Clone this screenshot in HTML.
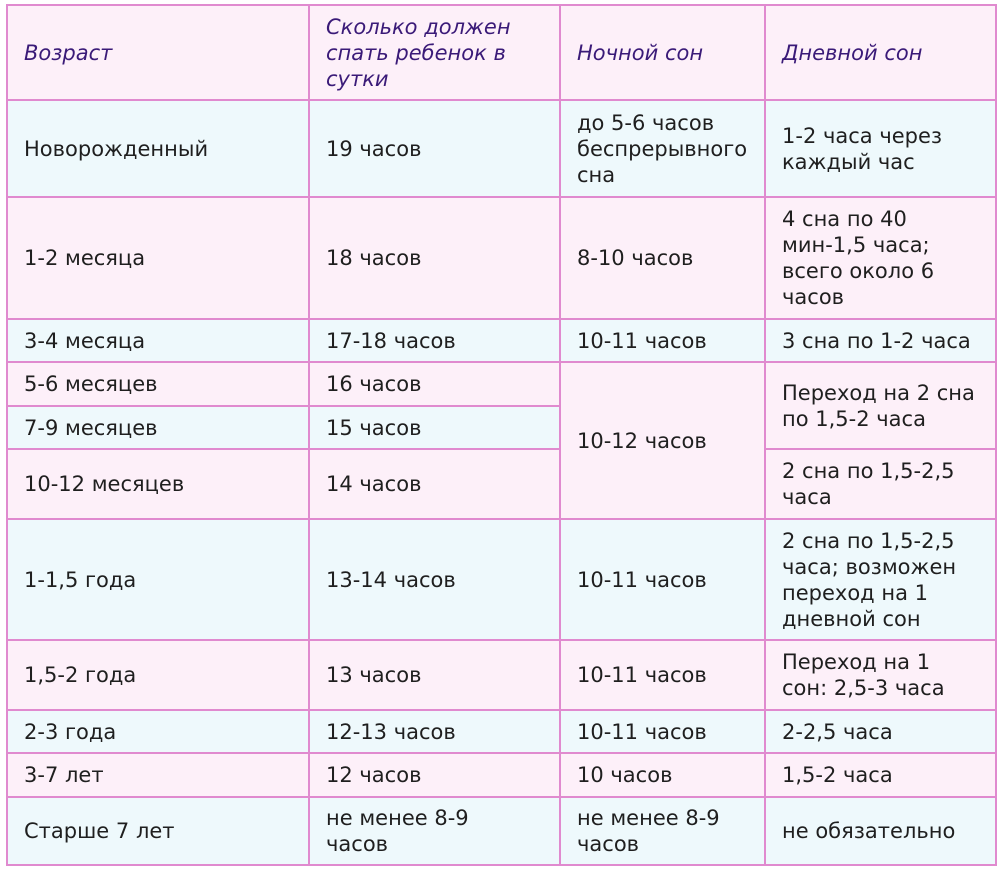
<!DOCTYPE html>
<html><head><meta charset="utf-8">
<style>
html,body{margin:0;padding:0;background:#fff;}
body{width:1000px;height:872px;position:relative;overflow:hidden;font-family:"DejaVu Sans","Liberation Sans",sans-serif;}
.c{position:absolute;display:flex;align-items:center;box-sizing:border-box;padding-left:17px;font-size:21px;line-height:26px;color:#1f1f1f;white-space:nowrap;}
.p{background:#fdf0f9;}
.b{background:#eef9fc;}
.h{font-style:italic;color:#3a1a78;}
.l{position:absolute;background:#e08acf;}
</style></head><body>
<!-- header -->
<div class="c p h" style="left:7px;top:5px;width:302px;height:95px;">Возраст</div>
<div class="c p h" style="left:309px;top:5px;width:251px;height:95px;">Сколько должен<br>спать ребенок в<br>сутки</div>
<div class="c p h" style="left:560px;top:5px;width:205px;height:95px;">Ночной сон</div>
<div class="c p h" style="left:765px;top:5px;width:231px;height:95px;">Дневной сон</div>
<!-- r1 -->
<div class="c b" style="left:7px;top:100px;width:302px;height:97px;">Новорожденный</div>
<div class="c b" style="left:309px;top:100px;width:251px;height:97px;">19 часов</div>
<div class="c b" style="left:560px;top:100px;width:205px;height:97px;">до 5-6 часов<br>беспрерывного<br>сна</div>
<div class="c b" style="left:765px;top:100px;width:231px;height:97px;">1-2 часа через<br>каждый час</div>
<!-- r2 -->
<div class="c p" style="left:7px;top:197px;width:302px;height:122px;">1-2 месяца</div>
<div class="c p" style="left:309px;top:197px;width:251px;height:122px;">18 часов</div>
<div class="c p" style="left:560px;top:197px;width:205px;height:122px;">8-10 часов</div>
<div class="c p" style="left:765px;top:197px;width:231px;height:122px;">4 сна по 40<br>мин-1,5 часа;<br>всего около 6<br>часов</div>
<!-- r3 -->
<div class="c b" style="left:7px;top:319px;width:302px;height:43px;">3-4 месяца</div>
<div class="c b" style="left:309px;top:319px;width:251px;height:43px;">17-18 часов</div>
<div class="c b" style="left:560px;top:319px;width:205px;height:43px;">10-11 часов</div>
<div class="c b" style="left:765px;top:319px;width:231px;height:43px;">3 сна по 1-2 часа</div>
<!-- r4 -->
<div class="c p" style="left:7px;top:362px;width:302px;height:44px;">5-6 месяцев</div>
<div class="c p" style="left:309px;top:362px;width:251px;height:44px;">16 часов</div>
<div class="c p" style="left:560px;top:362px;width:205px;height:157px;">10-12 часов</div>
<div class="c p" style="left:765px;top:362px;width:231px;height:87px;">Переход на 2 сна<br>по 1,5-2 часа</div>
<!-- r5 -->
<div class="c b" style="left:7px;top:406px;width:302px;height:43px;">7-9 месяцев</div>
<div class="c b" style="left:309px;top:406px;width:251px;height:43px;">15 часов</div>
<!-- r6 -->
<div class="c p" style="left:7px;top:449px;width:302px;height:70px;">10-12 месяцев</div>
<div class="c p" style="left:309px;top:449px;width:251px;height:70px;">14 часов</div>
<div class="c p" style="left:765px;top:449px;width:231px;height:70px;">2 сна по 1,5-2,5<br>часа</div>
<!-- r7 -->
<div class="c b" style="left:7px;top:519px;width:302px;height:121px;">1-1,5 года</div>
<div class="c b" style="left:309px;top:519px;width:251px;height:121px;">13-14 часов</div>
<div class="c b" style="left:560px;top:519px;width:205px;height:121px;">10-11 часов</div>
<div class="c b" style="left:765px;top:519px;width:231px;height:121px;">2 сна по 1,5-2,5<br>часа; возможен<br>переход на 1<br>дневной сон</div>
<!-- r8 -->
<div class="c p" style="left:7px;top:640px;width:302px;height:70px;">1,5-2 года</div>
<div class="c p" style="left:309px;top:640px;width:251px;height:70px;">13 часов</div>
<div class="c p" style="left:560px;top:640px;width:205px;height:70px;">10-11 часов</div>
<div class="c p" style="left:765px;top:640px;width:231px;height:70px;">Переход на 1<br>сон: 2,5-3 часа</div>
<!-- r9 -->
<div class="c b" style="left:7px;top:710px;width:302px;height:43px;">2-3 года</div>
<div class="c b" style="left:309px;top:710px;width:251px;height:43px;">12-13 часов</div>
<div class="c b" style="left:560px;top:710px;width:205px;height:43px;">10-11 часов</div>
<div class="c b" style="left:765px;top:710px;width:231px;height:43px;">2-2,5 часа</div>
<!-- r10 -->
<div class="c p" style="left:7px;top:753px;width:302px;height:44px;">3-7 лет</div>
<div class="c p" style="left:309px;top:753px;width:251px;height:44px;">12 часов</div>
<div class="c p" style="left:560px;top:753px;width:205px;height:44px;">10 часов</div>
<div class="c p" style="left:765px;top:753px;width:231px;height:44px;">1,5-2 часа</div>
<!-- r11 -->
<div class="c b" style="left:7px;top:797px;width:302px;height:68px;">Старше 7 лет</div>
<div class="c b" style="left:309px;top:797px;width:251px;height:68px;">не менее 8-9<br>часов</div>
<div class="c b" style="left:560px;top:797px;width:205px;height:68px;">не менее 8-9<br>часов</div>
<div class="c b" style="left:765px;top:797px;width:231px;height:68px;">не обязательно</div>

<!-- vertical lines -->
<div class="l" style="left:6px;top:4px;width:2px;height:862px;"></div>
<div class="l" style="left:308px;top:4px;width:2px;height:862px;"></div>
<div class="l" style="left:559px;top:4px;width:2px;height:862px;"></div>
<div class="l" style="left:764px;top:4px;width:2px;height:862px;"></div>
<div class="l" style="left:995px;top:4px;width:2px;height:862px;"></div>
<!-- horizontal full lines -->
<div class="l" style="left:6px;top:4px;width:991px;height:2px;"></div>
<div class="l" style="left:6px;top:99px;width:991px;height:2px;"></div>
<div class="l" style="left:6px;top:196px;width:991px;height:2px;"></div>
<div class="l" style="left:6px;top:318px;width:991px;height:2px;"></div>
<div class="l" style="left:6px;top:361px;width:991px;height:2px;"></div>
<div class="l" style="left:6px;top:518px;width:991px;height:2px;"></div>
<div class="l" style="left:6px;top:639px;width:991px;height:2px;"></div>
<div class="l" style="left:6px;top:709px;width:991px;height:2px;"></div>
<div class="l" style="left:6px;top:752px;width:991px;height:2px;"></div>
<div class="l" style="left:6px;top:796px;width:991px;height:2px;"></div>
<div class="l" style="left:6px;top:864px;width:991px;height:2px;"></div>
<!-- partial lines -->
<div class="l" style="left:6px;top:405px;width:555px;height:2px;"></div>
<div class="l" style="left:6px;top:448px;width:555px;height:2px;"></div>
<div class="l" style="left:764px;top:448px;width:233px;height:2px;"></div>
</body></html>
